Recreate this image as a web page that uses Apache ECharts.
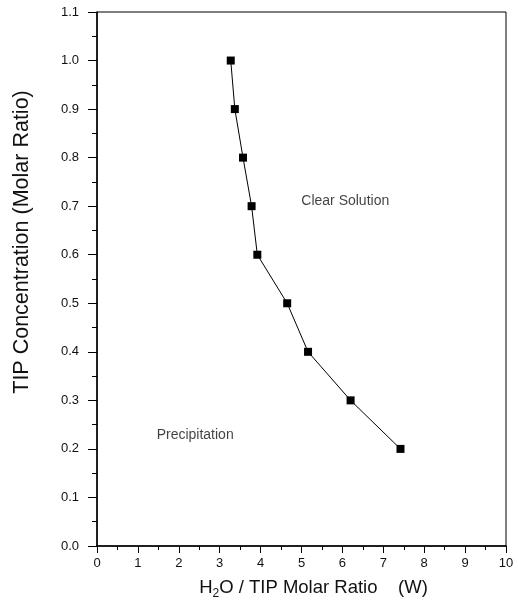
<!DOCTYPE html>
<html>
<head>
<meta charset="utf-8">
<script src="https://cdn.jsdelivr.net/npm/echarts@6/dist/echarts.min.js"></script>
<style>
  html, body { margin: 0; padding: 0; background: #fff; }
  #chart { width: 518px; height: 610px; }
</style>
</head>
<body>
<div id="chart"></div>
<script>
// phase boundary
var ratioW = [3.27, 3.37, 3.57, 3.78, 3.92, 4.65, 5.16, 6.2, 7.42];
var tipConc = [1.0, 0.9, 0.8, 0.7, 0.6, 0.5, 0.4, 0.3, 0.2];

// region labels
var regionNames = ['Clear Solution', 'Precipitation'];
var regionX = [6.07, 2.4];
var regionY = [0.71, 0.228];

var chart = echarts.init(document.getElementById('chart'));

var boundary = ratioW.map(function (w, i) { return [w, tipConc[i]]; });
var regions = regionNames.map(function (n, i) { return { name: n, value: [regionX[i], regionY[i]] }; });

var font = 'Liberation Sans, Arial, sans-serif';

var option = {
  animation: false,
  backgroundColor: '#fff',
  grid: {
    left: 97, right: 12, top: 12, bottom: 64,
    show: true, borderColor: '#000', borderWidth: 1
  },
  xAxis: {
    type: 'value',
    min: 0, max: 10, interval: 1,
    name: '{n|H}{s|2}{n|O / TIP Molar Ratio    (W)}',
    nameLocation: 'middle',
    nameGap: 30,
    nameTextStyle: {
      padding: [0, 0, 0, 24],
      rich: {
        n: { fontFamily: font, fontSize: 18.5, color: '#111' },
        s: { fontFamily: font, fontSize: 12, color: '#111', padding: [12, 0, 0, 0] }
      }
    },
    axisLine: { lineStyle: { color: '#000', width: 1.5 } },
    axisTick: { inside: false, length: 7, lineStyle: { color: '#000' } },
    minorTick: { show: true, splitNumber: 2, length: 4, lineStyle: { color: '#000' } },
    splitLine: { show: false },
    axisLabel: { fontFamily: font, fontSize: 13, color: '#111', margin: 11 }
  },
  yAxis: {
    type: 'value',
    min: 0, max: 1.1, interval: 0.1,
    name: 'TIP Concentration (Molar Ratio)',
    nameLocation: 'middle',
    nameGap: 64,
    nameTextStyle: { fontFamily: font, fontSize: 21.5, color: '#111', padding: [0, 0, 0, 74] },
    axisLine: { lineStyle: { color: '#000', width: 1.5 } },
    axisTick: { inside: false, length: 9, lineStyle: { color: '#000' } },
    minorTick: { show: true, splitNumber: 2, length: 5, lineStyle: { color: '#000' } },
    splitLine: { show: false },
    axisLabel: {
      fontFamily: font, fontSize: 13, color: '#111', margin: 18,
      formatter: function (v) { return v.toFixed(1); }
    }
  },
  series: [
    {
      type: 'line',
      data: boundary,
      symbol: 'rect',
      symbolSize: 8,
      itemStyle: { color: '#000' },
      lineStyle: { color: '#000', width: 1 }
    },
    {
      type: 'scatter',
      data: regions,
      symbolSize: 0,
      label: {
        show: true, position: 'inside',
        formatter: '{b}',
        fontFamily: font, fontSize: 14, color: '#111'
      }
    }
  ]
};

chart.setOption(option);
</script>
</body>
</html>
